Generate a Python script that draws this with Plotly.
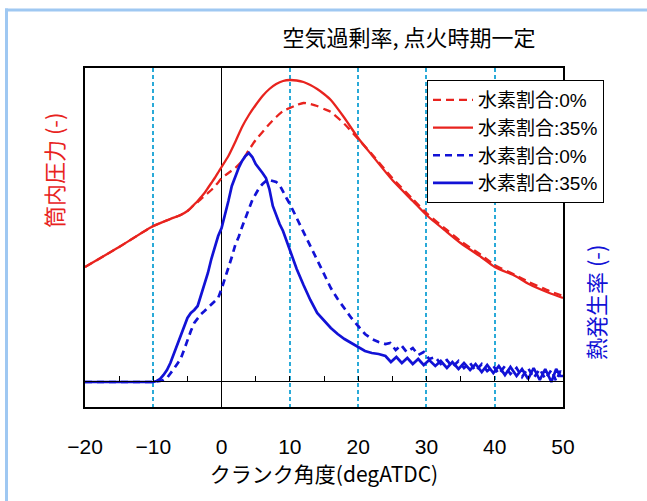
import plotly.graph_objects as go

# ---------------- data ----------------
ang_p = [-20, -15, -10, -7.5, -6, -5, -4.5, -4, -3.5, -3, -2.5, -2, -1.5, -1, -0.5, 0,
         1, 2, 3, 4, 5, 6, 7, 8, 9, 10,
         11, 12, 13, 14, 15, 16, 18, 20, 22, 25, 28, 30, 33, 35, 38, 40, 43, 45, 48, 50]
p_h35 = [140, 160, 181, 188, 192, 196, 199, 202.5, 206, 210, 214, 219, 224, 229, 234.5, 240,
         251, 265, 280, 292, 302, 311, 318, 323, 326, 327,
         326.5, 325, 322, 318, 313, 307, 289, 269, 252, 227, 206, 192, 175, 164, 150, 140, 131, 123, 114, 109]
p_h0 = [140, 160, 181, 188, 192, 196, 199, 202.5, 205, 208, 211, 214, 217, 220.5, 224.5, 229,
        234, 239, 246, 257, 267, 275, 283, 290, 296, 299,
        302, 304, 303, 301, 298, 295, 283, 268, 253, 229, 208, 194, 177, 166, 152, 142, 132, 125, 116, 111]

ang_h35 = [-20, -15, -10, -9.5, -9, -8.5, -8, -7.5, -7, -6.5, -6, -5.5, -5, -4.5, -4, -3.5, -3, -2.5, -2, -1.5,
           -1, -0.5, 0, 0.5, 1, 1.5, 2, 2.5, 3, 3.5, 4, 4.5, 5, 5.5, 6, 6.5, 7, 7.5, 8, 8.5,
           9, 10, 11, 12, 13, 14, 15, 16, 17, 18, 19, 20, 21, 22, 23, 24,
           24.8, 25.6, 26.4, 27.2, 28.0, 28.8, 29.6, 30.4, 31.3, 32.1, 33.0, 33.8, 34.7, 35.5, 36.4, 37.2,
           38.1, 38.9, 39.8, 40.6, 41.5, 42.3, 43.2, 44.0, 44.9, 45.7, 46.6, 47.4, 48.3, 49.0, 49.6, 50]
hr_h35 = [-1, -1, -1, 0, 2, 6, 11, 18, 27, 36, 45, 55, 63, 68, 71, 75, 86, 97, 108, 122,
          134, 145, 153, 166, 180, 195, 205, 213, 220, 225, 228, 224, 217, 213, 208, 203, 192, 175, 165, 157,
          150, 130, 112, 96, 81, 68, 60, 53, 47, 42, 38, 34, 30, 28, 27, 25,
          19, 24, 18, 23, 17, 22, 16, 21, 15, 20, 13, 19, 12, 18, 11, 17,
          9, 16, 8, 15, 6, 14, 5, 12, 2, 13, 1, 12, -1, 12, 5, 5]

ang_h0 = [-20, -15, -10, -9, -8.5, -8, -7.5, -7, -6.5, -6, -5.5, -5, -4.5, -4, -3.5, -3, -2.5, -2, -1.5, -1,
          -0.5, 0, 0.5, 1, 1.5, 2, 2.5, 3, 3.5, 4, 4.5, 5, 5.5, 6, 6.5, 7, 7.5, 8, 8.5, 9,
          9.5, 10, 11, 12, 13, 14, 15, 16, 17, 18, 19, 20, 21, 22, 23, 24,
          24.7, 25.5, 26.3, 27.1, 28.0, 28.8, 29.6, 30.4, 31.3, 32.1, 33.0, 33.8, 34.7, 35.5, 36.4, 37.2,
          38.1, 38.9, 39.8, 40.6, 41.5, 42.3, 43.2, 44.0, 44.9, 45.7, 46.6, 47.4, 48.3, 49.0, 49.6, 50]
hr_h0 = [-1, -1, -1, 0, 1, 3, 7, 12, 17, 22, 31, 41, 50, 58, 63, 67, 70, 73, 76, 79,
         83, 92, 102, 113, 124, 136, 144, 154, 163, 173, 181, 187, 193, 197, 200, 201, 200, 199, 196, 189,
         183, 177, 163, 149, 135, 121, 106, 93, 82, 72, 63, 55, 47, 42, 39, 37,
         38, 31, 36, 29, 33, 26, 29, 22, 24, 17, 21, 14, 20, 13, 18, 10,
         17, 10, 15, 7, 15, 7, 13, 4, 13, 3, 12, 2, 11, 0, 10, 6]

x_ticks = [-20, -10, 0, 10, 20, 30, 40, 50]
legend_names = ["水素割合:0%", "水素割合:35%", "水素割合:0%", "水素割合:35%"]
title_text = "空気過剰率, 点火時期一定"
x_title = "クランク角度(degATDC)"
y_left_title = "筒内圧力 (-)"
y_right_title = "熱発生率 (-)"

# ---------------- styling ----------------
RED = "#e8231e"
BLUE = "#1212d6"
CYAN = "#2aaad8"
FONT = "Liberation Sans, Noto Sans CJK JP, sans-serif"
CJK = "Noto Sans CJK JP, sans-serif"

W, H = 647, 501
L, R, T, B = 85, 84, 68, 94
PH = H - T - B  # plot height in px


def py(px_y):
    """convert page pixel y to paper fraction"""
    return (H - B - px_y) / PH


def px(px_x):
    return (px_x - L) / (W - L - R)


fig = go.Figure()
fig.add_trace(go.Scatter(x=ang_p, y=p_h0, mode="lines", name=legend_names[0], legendgroup="a",
                         line=dict(color=RED, width=2.3, dash="8px,5px", shape="spline", smoothing=0.6)))
fig.add_trace(go.Scatter(x=ang_p, y=p_h35, mode="lines", name=legend_names[1], legendgroup="b",
                         line=dict(color=RED, width=2.3, shape="spline", smoothing=0.6)))
fig.add_trace(go.Scatter(x=ang_h0, y=hr_h0, mode="lines", name=legend_names[2], legendgroup="c",
                         xaxis="x2", yaxis="y2",
                         line=dict(color=BLUE, width=2.7, dash="7px,5px")))
fig.add_trace(go.Scatter(x=ang_h35, y=hr_h35, mode="lines", name=legend_names[3], legendgroup="d",
                         xaxis="x2", yaxis="y2",
                         line=dict(color=BLUE, width=2.7)))

fig.update_layout(
    width=W, height=H, autosize=False,
    margin=dict(l=L, r=R, t=T, b=B, pad=0),
    paper_bgcolor="white", plot_bgcolor="white",
    font=dict(family=FONT, size=18, color="black"),
    showlegend=True,
    title=dict(text=title_text, x=409 / W, y=1 - 38 / H,
               xanchor="center", yanchor="middle", font=dict(family=CJK, size=22, color="black")),
    xaxis=dict(range=[-20, 50], tickvals=x_ticks, ticks="", showline=True, mirror=True,
               linecolor="black", linewidth=1.5, showgrid=True, gridcolor=CYAN, gridwidth=1.5,
               griddash="4px,3px", zeroline=True, zerolinecolor="black", zerolinewidth=1.3,
               ticklabelstandoff=20, tickfont=dict(family=FONT, size=21),
               title=dict(text=x_title, standoff=4, font=dict(family=CJK, size=21))),
    yaxis=dict(range=[0, PH], showticklabels=False, ticks="", showgrid=False, zeroline=False,
               showline=True, mirror=True, linecolor="black", linewidth=1.5),
    xaxis2=dict(overlaying="x", anchor="free", position=py(381), range=[-20, 50],
                showline=True, linecolor="black", linewidth=1.3, ticks="inside", ticklen=5,
                tickwidth=1.3, tickcolor="black", dtick=5, tick0=0, showticklabels=False,
                showgrid=False, zeroline=False),
    yaxis2=dict(overlaying="y", side="right", range=[-(H - B - 381), 381 - T],
                showticklabels=False, ticks="", showgrid=False, zeroline=False, showline=False),
    legend=dict(x=px(427), y=py(80), xanchor="left", yanchor="top",
                bgcolor="white", bordercolor="black", borderwidth=1,
                font=dict(family=FONT, size=19, color="black"),
                tracegroupgap=8, itemwidth=40, traceorder="normal"),
    annotations=[
        dict(text=y_left_title, xref="paper", yref="paper", x=px(53), y=py(171),
             textangle=-90, showarrow=False, xanchor="center", yanchor="middle",
             font=dict(family=CJK, size=22, color=RED)),
        dict(text=y_right_title, xref="paper", yref="paper", x=px(595), y=py(303),
             textangle=-90, showarrow=False, xanchor="center", yanchor="middle",
             font=dict(family=CJK, size=22, color=BLUE)),
    ],
    shapes=[
        dict(type="line", xref="paper", yref="paper", x0=px(6.5), x1=px(6.5), y0=py(H), y1=py(8.5),
             line=dict(color="#9fc8f2", width=3)),
        dict(type="line", xref="paper", yref="paper", x0=px(5), x1=px(W), y0=py(10), y1=py(10),
             line=dict(color="#9fc8f2", width=3)),
    ],
)

fig.write_html("out.html")
